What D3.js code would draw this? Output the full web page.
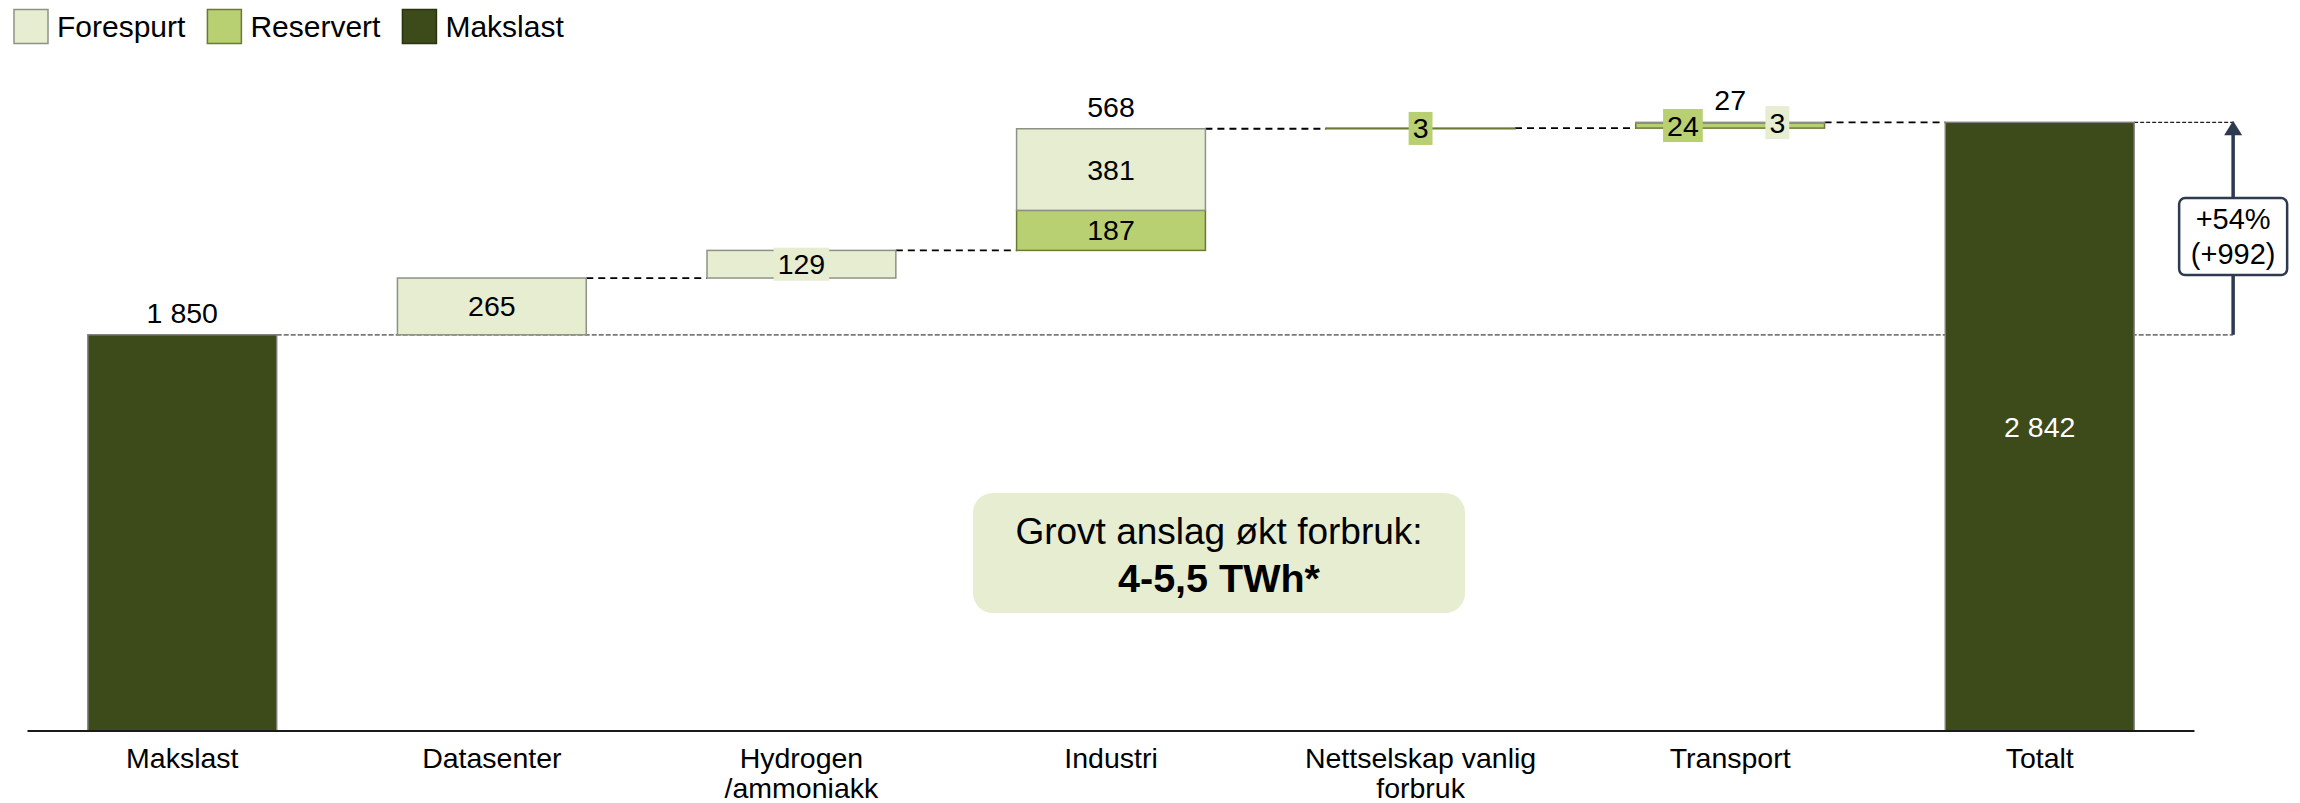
<!DOCTYPE html>
<html>
<head>
<meta charset="utf-8">
<script src="https://cdn.jsdelivr.net/npm/d3@7"></script>
<style>
	body { margin: 0; background: #fff; }
	text { font-family: "Liberation Sans", Arial, sans-serif; }
</style>
</head>
<body>
<svg id="chart" width="2300" height="803"></svg>
<script>
const categories = ["Makslast", "Datasenter", "Hydrogen\n/ammoniakk", "Industri", "Nettselskap vanlig\nforbruk", "Transport", "Totalt"];
const reservert = [0, 0, 0, 187, 3, 24, 0];
const forespurt = [0, 265, 129, 381, 0, 3, 0];
const makslast = 1850;
const legendLabels = ["Forespurt", "Reservert", "Makslast"];
const noteLines = ["Grovt anslag økt forbruk:", "4-5,5 TWh*"];

(() => {
	const colors = {
		Forespurt: {fill: "#E6EDD1", stroke: "#8E9286"},
		Reservert: {fill: "#B8CF72", stroke: "#6A7A35"},
		Makslast: {fill: "#3D4A1A", stroke: "#7F7F7F"}
	};
	const fs = 28.5;
	const fmt = d3.formatLocale({decimal: ",", thousands: " ", grouping: [3], currency: ["", ""]}).format(",d");

	const svg = d3.select("#chart");

	let x = d3.scaleBand()
		.domain(categories)
		.range([27.5, 2194.5])
		.paddingInner(0.39)
		.paddingOuter(0.195);
	let y = d3.scaleLinear().domain([0, 3000]).range([731, 88.5]);
	const bw = x.bandwidth();

	// build waterfall rows
	let running = makslast;
	let rows = categories.map((c, i) => {
		if (i === 0) return {cat: c, total: true, segs: [{key: "Makslast", y0: 0, y1: makslast, v: makslast}]};
		if (i === categories.length - 1) return {cat: c, total: true, segs: [{key: "Makslast", y0: 0, y1: running, v: running}]};
		let base = running;
		let segs = [
			{key: "Reservert", y0: base, y1: base + reservert[i], v: reservert[i]},
			{key: "Forespurt", y0: base + reservert[i], y1: base + reservert[i] + forespurt[i], v: forespurt[i]}
		].filter(s => s.v > 0);
		running += reservert[i] + forespurt[i];
		return {cat: c, total: false, segs: segs, start: base, end: running};
	});
	const total = running;
	const arrowX = x("Totalt") + bw + 99;

	// reference lines
	svg.append("line")
		.attr("x1", x("Makslast") + bw).attr("x2", arrowX)
		.attr("y1", y(makslast)).attr("y2", y(makslast))
		.attr("stroke", "#7a7a7a").attr("stroke-width", 1.7).attr("stroke-dasharray", "5,2");
	svg.append("line")
		.attr("x1", x("Totalt") + bw).attr("x2", arrowX)
		.attr("y1", y(total)).attr("y2", y(total))
		.attr("stroke", "#222").attr("stroke-width", 1.4).attr("stroke-dasharray", "4,2");

	// connectors between steps
	rows.forEach((r, i) => {
		if (r.total || i === categories.length - 1) return;
		svg.append("line")
			.attr("x1", x(r.cat) + bw).attr("x2", x(categories[i + 1]))
			.attr("y1", y(r.end)).attr("y2", y(r.end))
			.attr("stroke", "#000").attr("stroke-width", 1.8).attr("stroke-dasharray", "7,5");
	});

	// bars
	rows.forEach(r => {
		r.segs.forEach(s => {
			svg.append("rect")
				.attr("x", x(r.cat)).attr("width", bw)
				.attr("y", y(s.y1)).attr("height", y(s.y0) - y(s.y1))
				.attr("fill", colors[s.key].fill)
				.attr("stroke", colors[s.key].stroke).attr("stroke-width", 1.5);
		});
	});

	// axis line
	svg.append("line")
		.attr("x1", x.range()[0]).attr("x2", x.range()[1])
		.attr("y1", y(0)).attr("y2", y(0))
		.attr("stroke", "#1a1a1a").attr("stroke-width", 2);

	// category labels
	categories.forEach(c => {
		let t = svg.append("text")
			.attr("x", x(c) + bw / 2).attr("y", 768)
			.attr("text-anchor", "middle").attr("font-size", fs).attr("fill", "#000");
		c.split("\n").forEach((line, k) => {
			t.append("tspan").attr("x", x(c) + bw / 2).attr("dy", k === 0 ? 0 : 30).text(line);
		});
	});

	// value labels
	function boxedLabel(cx, cy, txt, fill)
	{
		let g = svg.append("g");
		let rect = g.append("rect").attr("fill", fill);
		let t = g.append("text")
			.attr("x", cx).attr("y", cy + 10)
			.attr("text-anchor", "middle").attr("font-size", fs).attr("fill", "#000")
			.text(txt);
		let w = t.node().getComputedTextLength() + 8;
		rect.attr("x", cx - w / 2).attr("y", cy - 16.5).attr("width", w).attr("height", 33);
	}

	rows.forEach((r, i) => {
		let cx = x(r.cat) + bw / 2;
		if (r.total) {
			let s = r.segs[0];
			if (i === 0) {
				svg.append("text").attr("x", cx).attr("y", y(s.y1) - 12)
					.attr("text-anchor", "middle").attr("font-size", fs).attr("fill", "#000")
					.text(fmt(s.v));
			} else {
				svg.append("text").attr("x", cx).attr("y", (y(s.y0) + y(s.y1)) / 2 + 10)
					.attr("text-anchor", "middle").attr("font-size", fs).attr("fill", "#fff")
					.text(fmt(s.v));
			}
			return;
		}
		let small = r.segs.filter(s => y(s.y0) - y(s.y1) < 35);
		r.segs.forEach((s, k) => {
			let cy = (y(s.y0) + y(s.y1)) / 2;
			if (y(s.y0) - y(s.y1) >= 35) {
				svg.append("text").attr("x", cx).attr("y", cy + 10)
					.attr("text-anchor", "middle").attr("font-size", fs).attr("fill", "#000")
					.text(fmt(s.v));
			} else {
				let off = small.length > 1 ? (k === 0 ? -bw / 4 : bw / 4) : 0;
				boxedLabel(cx + off, cy, fmt(s.v), colors[s.key].fill);
			}
		});
		if (r.segs.length > 1) {
			svg.append("text").attr("x", cx).attr("y", y(r.end) - 12)
				.attr("text-anchor", "middle").attr("font-size", fs).attr("fill", "#000")
				.text(fmt(r.end - r.start));
		}
	});

	// growth arrow
	const navy = "#2E3A4F";
	svg.append("line")
		.attr("x1", arrowX).attr("x2", arrowX)
		.attr("y1", y(makslast)).attr("y2", y(total) + 12)
		.attr("stroke", navy).attr("stroke-width", 3.5);
	svg.append("path")
		.attr("d", `M${arrowX},${y(total) - 1.5} L${arrowX + 9},${y(total) + 13} L${arrowX - 9},${y(total) + 13} Z`)
		.attr("fill", navy);
	const boxCy = (y(makslast) + y(total)) / 2 + 8;
	svg.append("rect")
		.attr("x", arrowX - 54).attr("y", boxCy - 38.5).attr("width", 108).attr("height", 77)
		.attr("rx", 6).attr("fill", "#fff").attr("stroke", navy).attr("stroke-width", 2.5);
	const growth = total - makslast;
	svg.append("text").attr("x", arrowX).attr("y", boxCy - 8)
		.attr("text-anchor", "middle").attr("font-size", 29).attr("fill", "#000")
		.text(`+${Math.round(growth / makslast * 100)}%`);
	svg.append("text").attr("x", arrowX).attr("y", boxCy + 27)
		.attr("text-anchor", "middle").attr("font-size", 29).attr("fill", "#000")
		.text(`(+${fmt(growth)})`);

	// note box
	svg.append("rect")
		.attr("x", 973).attr("y", 493).attr("width", 492).attr("height", 120)
		.attr("rx", 20).attr("fill", "#E6EDD1");
	svg.append("text").attr("x", 1219).attr("y", 544)
		.attr("text-anchor", "middle").attr("font-size", 37).attr("fill", "#000")
		.text(noteLines[0]);
	svg.append("text").attr("x", 1219).attr("y", 592)
		.attr("text-anchor", "middle").attr("font-size", 39.5).attr("font-weight", "bold").attr("fill", "#000")
		.text(noteLines[1]);

	// legend
	let lx = 14;
	legendLabels.forEach(l => {
		svg.append("rect")
			.attr("x", lx).attr("y", 9.5).attr("width", 34).attr("height", 34)
			.attr("fill", colors[l].fill)
			.attr("stroke", l === "Makslast" ? "#2a3310" : colors[l].stroke).attr("stroke-width", 1.5);
		let t = svg.append("text").attr("x", lx + 43).attr("y", 37)
			.attr("font-size", 30).attr("fill", "#000").text(l);
		lx += 43 + t.node().getComputedTextLength() + 22;
	});
})();
</script>
</body>
</html>
